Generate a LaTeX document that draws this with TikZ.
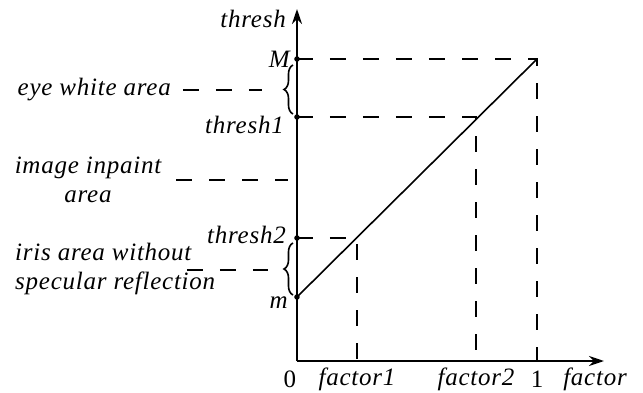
\documentclass[tikz,border=0pt]{standalone}
\usepackage{fontspec}
\setmainfont{Liberation Serif}[LetterSpace=3]
\usetikzlibrary{arrows.meta,positioning,decorations.pathreplacing,calc}

\begin{document}
\begin{tikzpicture}[x=1pt,y=1pt,
  axis/.style={line width=2pt,-{Stealth[length=15pt,width=10pt]}},
  guide/.style={line width=1.8pt,dash pattern=on 16pt off 17pt},
  lbl/.style={font=\fontsize{25}{29}\selectfont\itshape,inner sep=1pt},
  dot/.style={circle,fill,inner sep=0pt,minimum size=5.5pt},
  brc/.style={decorate,decoration={brace,amplitude=9pt},line width=1.6pt}]
  \useasboundingbox (-297,-31) rectangle (346,361);
  % axes and the key levels
  \coordinate (O) at (0,0);
  \coordinate (ytop) at (0,352);
  \coordinate (xend) at (307,0);
  \coordinate (M) at (0,302);
  \coordinate (t1) at (0,244);
  \coordinate (t2) at (0,123);
  \coordinate (m) at (0,64);
  \coordinate (f1) at (60,0);
  \coordinate (f2) at (179,0);
  \coordinate (one) at (240,0);
  \coordinate (pM) at (240,302);
  \coordinate (p1) at (179,244);
  \coordinate (p2) at (60,123);
  \draw[axis] (O)--(ytop);
  \draw[axis] (O)--(xend);
  \draw[line width=1.6pt] (m)--(pM);
  \draw[guide] (M)--(pM)--(one);
  \draw[guide] (t1)--(p1)--(f2);
  \draw[guide] (t2)--(p2)--(f1);
  \foreach \p in {M,t1,t2,m} \node[dot] at (\p) {};
  % axis labels
  \node[lbl,anchor=east] (ylab) at (-10,342) {thresh};
  \node[lbl,anchor=east] (Mlab) at (-6,302) {M};
  \node[lbl,anchor=east] (t1lab) at (-12,236) {thresh1};
  \node[lbl,anchor=east] (t2lab) at (-10,126) {thresh2};
  \node[lbl,anchor=east] (mlab) at (-8,58) {m};
  \node[lbl] (zero) at (-7,-18) {\upshape 0};
  \node[lbl] (f1lab) at (60,-18) {factor1};
  \node[lbl] (f2lab) at (179,-18) {factor2};
  \node[lbl] (onelab) at (240,-18) {\upshape 1};
  \node[lbl] (xlab) at (298,-18) {factor};
  % braces and area labels
  \draw[brc] (-4,247)--(-4,296);
  \draw[brc] (-4,66)--(-4,118);
  \node[lbl,anchor=east] (eye) at (-125,271) {eye white area};
  \node[lbl,align=center] (inp) at (-209,181) {image inpaint\\area};
  \node[lbl,align=left,anchor=west] (iris) at (-283,92) {iris area without\\specular reflection};
  \coordinate (eyeend) at (-35,271);
  \coordinate (inpend) at (-9,181);
  \coordinate (irisend) at (-29,91);
  \draw[guide] ($(eye.east)+(11,0)$)--(eyeend);
  \draw[guide] ($(inp.east)+(14,0)$)--(inpend);
  \draw[guide] (-110,91)--(irisend);
\end{tikzpicture}
\end{document}
